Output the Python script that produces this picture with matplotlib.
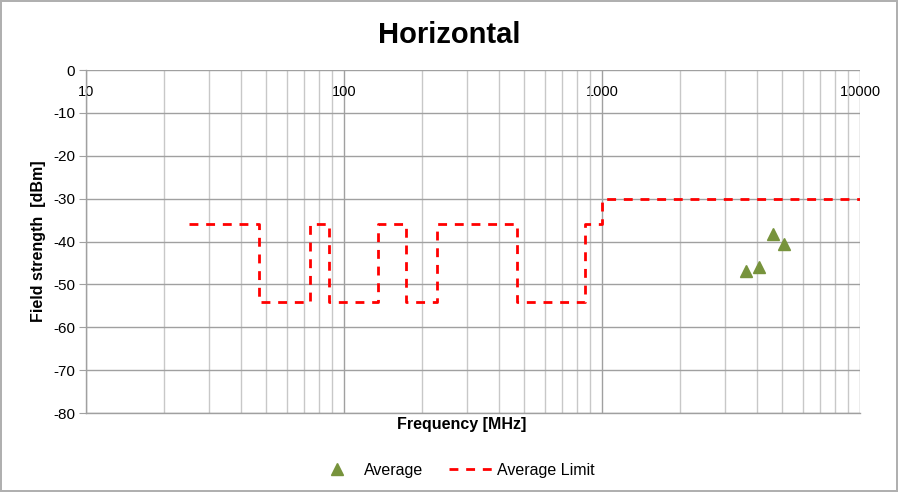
import matplotlib
matplotlib.use("Agg")
import matplotlib.pyplot as plt
from matplotlib.ticker import FixedLocator, LogLocator, NullFormatter, FixedFormatter

plt.rcParams['font.family'] = ['Liberation Sans', 'DejaVu Sans']
plt.rcParams['axes.unicode_minus'] = False

# Data
avg_freq = [3600, 4060, 4590, 5090]
avg_level = [-46.9, -45.9, -38.2, -40.5]
limit_freq = [25, 47, 74, 87.5, 136, 174, 230, 470, 862, 1000, 10000]
limit_level = [-36, -54, -36, -54, -36, -54, -36, -54, -36, -30, -30]
x_ticks = [10, 100, 1000, 10000]
x_tick_labels = ['10', '100', '1000', '10000']
y_ticks = [0, -10, -20, -30, -40, -50, -60, -70, -80]

fig = plt.figure(figsize=(8.98, 4.92), dpi=100)
fig.patch.set_facecolor('white')
fig.patch.set_edgecolor('#b0b0b0')
fig.patch.set_linewidth(1.5)

ax = fig.add_axes([86/898, 1-413/492, (860-86)/898, (413-70)/492])
ax.set_xscale('log')
ax.set_xlim(10, 10000)
ax.set_ylim(-80, 0)

ax.plot(avg_freq, avg_level, linestyle='none', marker='^', markersize=8,
        color='#77933c', label='Average', zorder=4)
ax.step(limit_freq, limit_level, where='post', color='#ff0000', lw=2,
        linestyle=(0, (3.2, 2.8)), label='Average Limit', zorder=3)

# grid
ax.xaxis.set_major_locator(FixedLocator(x_ticks))
ax.xaxis.set_major_formatter(FixedFormatter(x_tick_labels))
ax.xaxis.set_minor_locator(LogLocator(base=10, subs=range(2, 10)))
ax.xaxis.set_minor_formatter(NullFormatter())
ax.set_yticks(y_ticks)
ax.grid(True, which='major', color='#a0a0a0', lw=1)
ax.grid(True, which='minor', axis='x', color='#c8c8c8', lw=1)
ax.set_axisbelow(True)

ax.tick_params(axis='x', which='both', bottom=False, top=False, labelbottom=False,
               labeltop=True, length=0, pad=-21, labelsize=10.5, colors='#000000')
ax.tick_params(axis='y', which='major', length=5, color='#a0a0a0', labelsize=11, pad=3)

for s in ['top', 'right']:
    ax.spines[s].set_visible(False)
for s in ['left', 'bottom']:
    ax.spines[s].set_color('#a0a0a0')
    ax.spines[s].set_linewidth(1)

fig.text(0.5, 1-35/492, 'Horizontal', fontsize=21, fontweight='bold', ha='center', va='center')
fig.text(462/898, 1-424/492, 'Frequency [MHz]', fontsize=11.5, fontweight='bold',
         ha='center', va='center')
ax.set_ylabel('Field strength  [dBm]', fontsize=11.5, fontweight='bold', labelpad=5)

fig.legend(loc='center', bbox_to_anchor=(455/898, 1-470/492), ncol=2, frameon=False,
           fontsize=11.5, handlelength=2.75, handletextpad=0.3, columnspacing=1.6,
           numpoints=1)

fig.savefig('out.png', dpi=100)
